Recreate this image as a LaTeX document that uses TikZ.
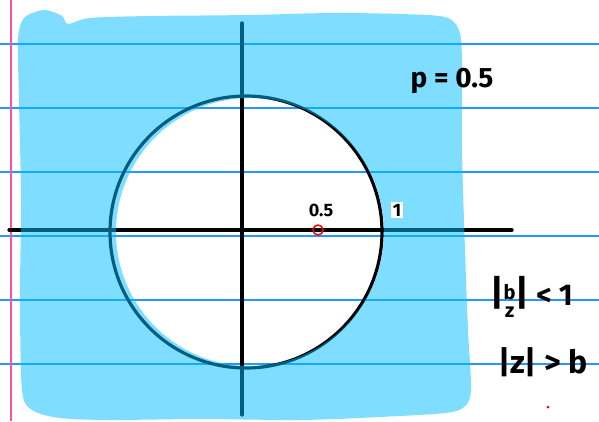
\documentclass[tikz,border=0pt]{standalone}
\usepackage{fontspec}
\setmainfont{Fira Sans}
\begin{document}
\begin{tikzpicture}[x=1pt,y=-1pt,
  paperline/.style={draw={rgb,255:red,40;green,150;blue,255}, line width=1.3pt},
  marginline/.style={draw={rgb,255:red,255;green,80;blue,170}, line width=1.6pt},
  axisline/.style={draw=black, line width=3.2pt, line cap=round},
  circleline/.style={draw=black, line width=3.2pt},
  shade/.style={fill={rgb,255:red,0;green,191;blue,255}, opacity=0.5, even odd rule},
  hand/.style={font=\fontsize{#1}{#1}\selectfont\bfseries, inner sep=0pt}]
\useasboundingbox (0,0) rectangle (599,421);
\fill[white] (0,0) rectangle (599,421);
% paper lines
\foreach \yy in {44,108,172,236,300,364} \draw[paperline] (0,\yy) -- (599,\yy);
\draw[marginline] (11,0) -- (11,421);
% axes
\coordinate (xl) at (9,230); \coordinate (xr) at (512,230);
\coordinate (yt) at (242,23); \coordinate (yb) at (242,415);
\draw[axisline] (xl) -- (xr);
\draw[axisline] (yt) -- (yb);
% unit circle
\coordinate (o) at (246,232);
\draw[circleline] (o) circle[radius=136pt];
\node[hand=18] (lhalf) at (321,210) {0.5};
\node[draw=red, line width=1.5pt, circle, minimum size=10pt, inner sep=0pt] (pole) at (318,230) {};
% shaded region
\path[shade] plot[smooth cycle, tension=0.5] coordinates {
 (18,40) (24,18) (44,10) (62,16) (68,24) (90,18) (150,16) (250,15) (330,13)
 (400,14) (445,17) (459,30) (462,60) (462,150) (465,250) (468,330) (471,390)
 (464,407) (445,413) (380,417) (300,420) (200,419) (110,420) (60,418) (32,410)
 (22,390) (20,300) (21,200) (19,100)}
 (250,232) circle[radius=134pt];
\node[hand=18, fill=white, inner sep=1.5pt] (lone) at (397,210) {1};
% labels
\node[hand=28] (pval) at (452,81) {p = 0.5};
\node[hand=36, anchor=west] (cond1) at (490,300) {|\raisebox{-4pt}{\fontsize{20}{20}\selectfont\begin{tabular}{@{}c@{}}b\\[-2pt]z\end{tabular}}|\fontsize{30}{30}\selectfont{} < 1};
\node[hand=32, anchor=west] (cond2) at (498,362) {|z| > b};
\fill[red] (548,407) circle[radius=1.5pt];
\end{tikzpicture}
\end{document}
